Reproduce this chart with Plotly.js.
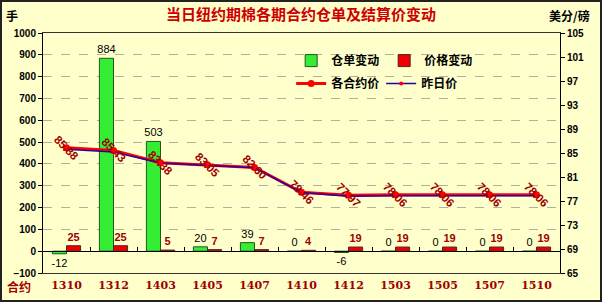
<!DOCTYPE html>
<html><head><meta charset="utf-8">
<script src="https://cdn.plot.ly/plotly-3.0.1.min.js"></script>
<style>
html,body{margin:0;padding:0;background:#FFFFCC;}
#wrap{position:relative;width:602px;height:302px;}
#chart{width:602px;height:302px;}
#frame{position:absolute;left:0;top:0;width:602px;height:302px;box-sizing:border-box;border:2px solid #222;pointer-events:none;}
</style></head>
<body><div id="wrap"><div id="chart"></div><div id="frame"></div></div>
<script>
const contracts = ['1310','1312','1403','1405','1407','1410','1412','1503','1505','1507','1510'];
const receiptChange = [-12, 884, 503, 20, 39, 0, -6, 0, 0, 0, 0];
const priceChange = [25, 25, 5, 7, 7, 4, 19, 19, 19, 19, 19];
const settlePrice = [85.88, 85.43, 83.38, 83.05, 82.60, 78.46, 77.97, 78.06, 78.06, 78.06, 78.06];
const prevPrice = [85.63, 85.18, 83.33, 82.98, 82.53, 78.42, 77.78, 77.87, 77.87, 77.87, 77.87];

const CJK = '"Noto Sans CJK SC", "Liberation Sans", sans-serif';
const DR = '#A00000';

const traces = [
  {type:'bar', name:'仓单变动', x:contracts, y:receiptChange, xaxis:'x', yaxis:'y',
   marker:{color:'#33EE33', line:{color:'#225522', width:1}},
   text:receiptChange.map(String), textposition:'outside', constraintext:'none', cliponaxis:false,
   textfont:{family:'"Liberation Sans", sans-serif', size:11, color:'#000'}, legend:'legend'},
  {type:'bar', name:'价格变动', x:contracts, y:priceChange, xaxis:'x', yaxis:'y',
   marker:{color:'#EE0000', line:{color:'#552222', width:1}},
   text:priceChange.map(String), textposition:'outside', constraintext:'none', cliponaxis:false,
   textfont:{family:'"Liberation Sans", sans-serif', size:11, color:DR, weight:'bold'}, legend:'legend'},
  {type:'scatter', mode:'lines+markers', name:'各合约价', x:contracts, y:settlePrice, xaxis:'x2', yaxis:'y2',
   line:{color:'#FF0000', width:3}, marker:{color:'#FF0000', size:7}, legend:'legend2'},
  {type:'scatter', mode:'lines+markers', name:'昨日价', x:contracts, y:prevPrice, xaxis:'x2', yaxis:'y2',
   line:{color:'#2200AA', width:1.5}, marker:{color:'#FF0000', size:4}, legend:'legend2'}
];

const annotations = settlePrice.map((v,i)=>({
  x: i, y: v, xref:'x', yref:'y2', text: v.toFixed(2), showarrow:false,
  xanchor:'center', yanchor:'middle',
  textangle:45, font:{family:'"Liberation Sans", sans-serif', size:11.5, color:DR, weight:'bold'}
}));
annotations.push(
  {x:-0.06, y:1.075, xref:'paper', yref:'paper', xanchor:'center', yanchor:'middle', text:'手', showarrow:false,
   font:{family:CJK, size:12, color:'#000', weight:'bold'}},
  {x:1.019, y:1.075, xref:'paper', yref:'paper', xanchor:'center', yanchor:'middle', text:'美分/磅', showarrow:false,
   font:{family:CJK, size:12, color:'#000', weight:'bold'}},
  {x:-0.046, y:-0.056, xref:'paper', yref:'paper', xanchor:'center', yanchor:'middle', text:'合约', showarrow:false,
   font:{family:CJK, size:12, color:DR, weight:'bold'}}
);

const tickFont = {family:'"Liberation Sans", sans-serif', size:10, color:'#000', weight:'bold'};

const layout = {
  width:602, height:302,
  margin:{l:43, r:42, t:33, b:29},
  paper_bgcolor:'#FFFFCC', plot_bgcolor:'#FFFFCC',
  title:{text:'当日纽约期棉各期合约仓单及结算价变动', x:0.5, xref:'container', y:0.95, yref:'container', yanchor:'middle',
    font:{family:CJK, size:15, color:'#CC0000', weight:'bold'}},
  barmode:'group', bargap:0.4, bargroupgap:0,
  showlegend:true,
  legend:{orientation:'h', x:0.48, y:0.885, xanchor:'left', yanchor:'middle', bgcolor:'rgba(0,0,0,0)',
    entrywidth:48, font:{family:CJK, size:12, color:'#000', weight:'bold'}, traceorder:'normal'},
  legend2:{orientation:'h', x:0.48, y:0.79, xanchor:'left', yanchor:'middle', bgcolor:'rgba(0,0,0,0)',
    entrywidth:45, font:{family:CJK, size:12, color:'#000', weight:'bold'}, traceorder:'normal'},
  xaxis:{type:'category', range:[-0.5,10.5], anchor:'free', position:(0-(-100))/1100,
    showline:true, linecolor:'#000', linewidth:1, ticks:'inside', ticklen:4, tickcolor:'#000',
    tickson:'boundaries', showticklabels:false, showgrid:false, zeroline:false, fixedrange:true},
  xaxis2:{type:'category', range:[-0.5,10.5], overlaying:'x', anchor:'y2', side:'bottom',
    showline:true, mirror:true, linecolor:'#333', linewidth:1, ticks:'', showgrid:false, ticklabelstandoff:2,
    tickfont:{family:'"DejaVu Serif", serif', size:11, color:DR, weight:'bold'}},
  yaxis:{range:[-100,1000], dtick:100, tick0:0, showline:true, linecolor:'#000', linewidth:1,
    ticks:'outside', ticklen:4, tickcolor:'#000', showgrid:true, gridcolor:'#B0B0A0', griddash:'dash', gridwidth:1,
    zeroline:false, tickfont:tickFont},
  yaxis2:{range:[65,105], dtick:4, tick0:65, overlaying:'y', side:'right', anchor:'x2',
    showline:true, linecolor:'#000', linewidth:1, ticks:'outside', ticklen:4, tickcolor:'#000',
    showgrid:false, zeroline:false, tickfont:tickFont},
  annotations:annotations
};

Plotly.newPlot('chart', traces, layout, {displayModeBar:false, staticPlot:true});
</script></body></html>
